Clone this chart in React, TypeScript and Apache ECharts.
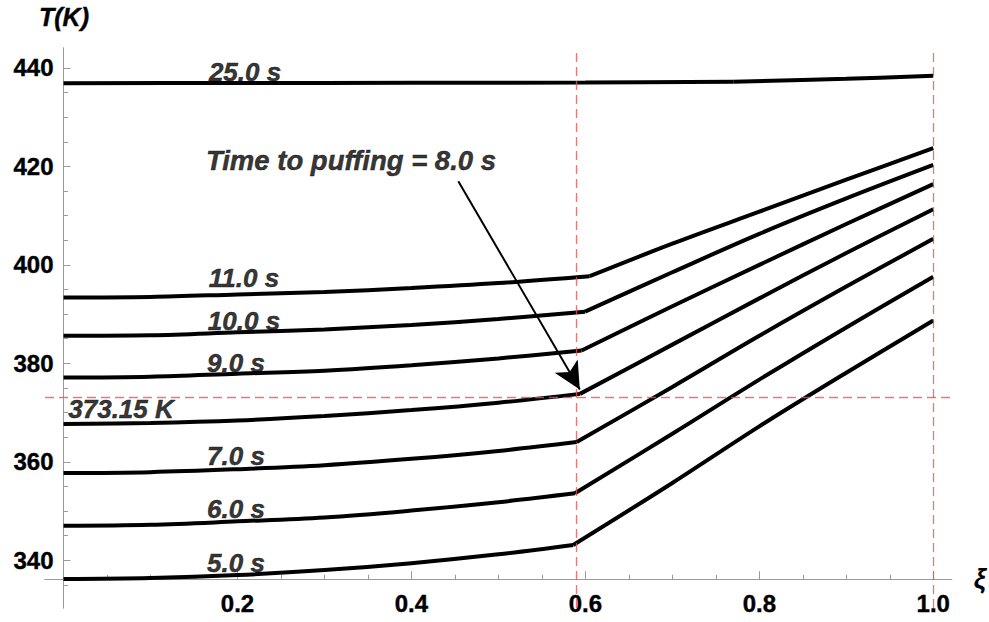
import React, { useEffect, useRef } from 'react';
import * as echarts from 'echarts';

const WIDTH = 989;
const HEIGHT = 622;

// Plot range of the frame and the point where the two axes cross
const XI_RANGE = [-0.0213, 1.0212];
const T_RANGE = [330.3, 444.06];
const AXIS_CROSS_T = 336.14;
const AXIS_CROSS_XI = 0;

// Tick positions
const XI_MAJOR = [0.2, 0.4, 0.6, 0.8, 1.0];
const XI_MINOR = [0.05, 0.1, 0.15, 0.25, 0.3, 0.35, 0.45, 0.5, 0.55, 0.65, 0.7, 0.75, 0.85, 0.9, 0.95];
const T_MAJOR = [340, 360, 380, 400, 420, 440];
const T_MINOR = [335, 345, 350, 355, 365, 370, 375, 385, 390, 395, 405, 410, 415, 425, 430, 435];

// Temperature profiles T(ξ) at successive times, [ξ, T in K]
const T_5S = [[0, 336.2], [0.1, 336.4], [0.2, 337.0], [0.3, 338.0], [0.4, 339.4], [0.5, 341.2], [0.586, 343.1], [0.7, 355.7], [0.8, 367.2], [0.9, 378.1], [1.0, 388.7]];
const T_6S = [[0, 347.0], [0.1, 347.2], [0.2, 347.9], [0.3, 348.7], [0.4, 350.1], [0.5, 351.8], [0.588, 353.6], [0.7, 365.7], [0.8, 376.7], [0.9, 387.3], [1.0, 397.6]];
const T_7S = [[0, 357.7], [0.1, 357.9], [0.2, 358.5], [0.3, 359.3], [0.4, 360.6], [0.5, 362.2], [0.59, 364.0], [0.7, 375.2], [0.8, 385.6], [0.9, 395.6], [1.0, 405.3]];
const T_8S = [[0, 367.7], [0.1, 367.9], [0.2, 368.4], [0.3, 369.3], [0.4, 370.5], [0.5, 372.0], [0.5938, 373.8], [0.7, 383.8], [0.8, 393.2], [0.9, 402.4], [1.0, 411.3]];
const T_9S = [[0, 377.1], [0.1, 377.3], [0.2, 377.9], [0.3, 378.5], [0.4, 379.6], [0.5, 381.0], [0.5957, 382.6], [0.7, 391.6], [0.8, 400.0], [0.9, 408.3], [1.0, 416.4]];
const T_10S = [[0, 385.6], [0.1, 385.7], [0.2, 386.3], [0.3, 386.9], [0.4, 387.8], [0.5, 389.0], [0.5996, 390.5], [0.7, 398.5], [0.8, 406.3], [0.9, 413.5], [1.0, 420.3]];
const T_11S = [[0, 393.4], [0.1, 393.5], [0.2, 394.0], [0.3, 394.5], [0.4, 395.3], [0.5, 396.3], [0.605, 397.7], [0.7, 404.3], [0.8, 410.8], [0.9, 417.3], [1.0, 423.7]];
const T_25S = [[0, 436.9], [0.2, 436.95], [0.4, 437.0], [0.6, 437.05], [0.77, 437.2], [0.9, 437.8], [1.0, 438.4]];

// kink = index of the point where the profile bends
const CURVES = [
  { name: '5.0 s', data: T_5S, kink: 6 },
  { name: '6.0 s', data: T_6S, kink: 6 },
  { name: '7.0 s', data: T_7S, kink: 6 },
  { name: '8.0 s', data: T_8S, kink: 6 },
  { name: '9.0 s', data: T_9S, kink: 6 },
  { name: '10.0 s', data: T_10S, kink: 6 },
  { name: '11.0 s', data: T_11S, kink: 6 },
  { name: '25.0 s', data: T_25S, kink: 4 },
];

// Reference lines
const BOILING_T = 373.15;
const PUFF_XI = 0.5854;
const SURFACE_XI = 1.0;

// Text annotations, centred on [ξ, T]
const ANNOTATIONS = [
  { text: '25.0 s', at: [0.2087, 439.2] },
  { text: '11.0 s', at: [0.2075, 397.34] },
  { text: '10.0 s', at: [0.2075, 388.6] },
  { text: '9.0 s', at: [0.1983, 380.1] },
  { text: '373.15 K', at: [0.0661, 370.7] },
  { text: '7.0 s', at: [0.1983, 361.2] },
  { text: '6.0 s', at: [0.1983, 350.4] },
  { text: '5.0 s', at: [0.1983, 339.45] },
];
const PUFF_NOTE = { text: 'Time to puffing = 8.0 s', at: [0.3305, 421.3] };

// Arrow from the note to the 8.0 s kink
const ARROW_FROM = [0.4539, 417.0];
const ARROW_TO = [0.5936, 374.7];

const FONT = '"Liberation Sans", Arial, sans-serif';
const AXIS_GREY = '#9a9a9a';
const DASH_RED = 'rgb(240, 80, 80)';

const GRID = { left: 45, right: 37.3, top: 48, bottom: 14 };

export default function App() {
  const ref = useRef<HTMLDivElement>(null);

  useEffect(() => {
    if (!ref.current) return;
    const chart = echarts.init(ref.current, null, { renderer: 'svg' });

    const gridW = WIDTH - GRID.left - GRID.right;
    const gridH = HEIGHT - GRID.top - GRID.bottom;
    const xAxisOffset = -((AXIS_CROSS_T - T_RANGE[0]) / (T_RANGE[1] - T_RANGE[0])) * gridH;
    const yAxisOffset = -((AXIS_CROSS_XI - XI_RANGE[0]) / (XI_RANGE[1] - XI_RANGE[0])) * gridW;

    const tickLabel = {
      color: '#000',
      fontFamily: FONT,
      fontWeight: 'bold' as const,
      fontSize: 24,
      textBorderColor: '#000',
      textBorderWidth: 0.4,
    };

    const noteLabel = {
      show: true,
      position: 'inside',
      formatter: (p: any) => p.name,
      color: '#000',
      fontFamily: FONT,
      fontWeight: 'bold',
      fontStyle: 'italic',
      textBorderColor: '#000',
      textBorderWidth: 0.5,
    };

    const baseX = {
      type: 'value' as const,
      min: XI_RANGE[0],
      max: XI_RANGE[1],
      position: 'bottom' as const,
      offset: xAxisOffset,
      splitLine: { show: false },
      axisLine: { show: true, onZero: false, lineStyle: { color: AXIS_GREY, width: 1 } },
    };
    const baseY = {
      type: 'value' as const,
      min: T_RANGE[0],
      max: T_RANGE[1],
      position: 'left' as const,
      offset: yAxisOffset,
      splitLine: { show: false },
      axisLine: { show: true, onZero: false, lineStyle: { color: AXIS_GREY, width: 1 } },
    };

    const dashStyle = { color: DASH_RED, type: [9, 5], width: 1.3, opacity: 0.8 };

    const curveSeries: any[] = [];
    CURVES.forEach((c) => {
      // inner (slowly rising) part and outer (steep) part, drawn as two smooth pieces
      [c.data.slice(0, c.kink + 1), c.data.slice(c.kink)].forEach((piece) => {
        curveSeries.push({
          type: 'line',
          name: c.name,
          data: piece,
          showSymbol: false,
          symbol: 'none',
          smooth: 0.35,
          silent: true,
          z: 3,
          lineStyle: { color: '#000', width: 4, cap: 'butt' },
        });
      });
    });

    const option: any = {
      animation: false,
      backgroundColor: '#fff',
      grid: { ...GRID, containLabel: false },
      xAxis: [
        {
          ...baseX,
          name: 'ξ',
          nameLocation: 'end',
          nameGap: 22,
          nameTextStyle: { color: '#000', fontFamily: FONT, fontSize: 27, fontWeight: 'bold', fontStyle: 'italic', verticalAlign: 'middle' },
          axisTick: { show: true, inside: true, length: 8, customValues: XI_MAJOR, lineStyle: { color: AXIS_GREY } },
          axisLabel: { ...tickLabel, margin: 12, customValues: XI_MAJOR, formatter: (v: number) => v.toFixed(1) },
        },
        {
          ...baseX,
          axisTick: { show: true, inside: true, length: 4.5, customValues: XI_MINOR, lineStyle: { color: AXIS_GREY } },
          axisLabel: { show: false },
        },
      ],
      yAxis: [
        {
          ...baseY,
          axisTick: { show: true, inside: true, length: 7, customValues: T_MAJOR, lineStyle: { color: AXIS_GREY } },
          axisLabel: { ...tickLabel, margin: 10, customValues: T_MAJOR, formatter: (v: number) => String(Math.round(v)) },
        },
        {
          ...baseY,
          axisTick: { show: true, inside: true, length: 4.5, customValues: T_MINOR, lineStyle: { color: AXIS_GREY } },
          axisLabel: { show: false },
        },
      ],
      graphic: [
        {
          type: 'text',
          x: 64,
          y: 17,
          z: 10,
          style: {
            text: 'T(K)',
            fill: '#000',
            font: `italic bold 25px ${FONT}`,
            align: 'center',
            verticalAlign: 'middle',
            stroke: '#000',
            lineWidth: 0.4,
          },
        },
      ],
      series: [
        {
          type: 'line',
          name: 'reference',
          data: [],
          silent: true,
          markLine: {
            silent: true,
            symbol: ['none', 'none'],
            label: { show: false },
            lineStyle: dashStyle,
            emphasis: { disabled: true },
            data: [
              { xAxis: PUFF_XI, lineStyle: dashStyle },
              { xAxis: SURFACE_XI, lineStyle: dashStyle },
              { yAxis: BOILING_T, lineStyle: dashStyle },
            ],
          },
        },
        ...curveSeries,
        {
          type: 'scatter',
          name: 'curve labels',
          symbolSize: 0,
          silent: true,
          z: 4,
          data: ANNOTATIONS.map((a) => ({ value: a.at, name: a.text })),
          label: { ...noteLabel, fontSize: 26 },
        },
        {
          type: 'scatter',
          name: 'puffing note',
          symbolSize: 0,
          silent: true,
          z: 4,
          data: [{ value: PUFF_NOTE.at, name: PUFF_NOTE.text }],
          label: { ...noteLabel, fontSize: 27.5 },
          markLine: {
            silent: true,
            symbol: ['none', 'arrow'],
            label: { show: false },
            lineStyle: { color: '#000', type: 'solid', width: 2 },
            emphasis: { disabled: true },
            data: [
              [
                { coord: ARROW_FROM, symbol: 'none' },
                { coord: ARROW_TO, symbol: 'arrow', symbolSize: [20, 27] },
              ],
            ],
          },
        },
      ],
    };

    chart.setOption(option);
    return () => chart.dispose();
  }, []);

  return (
    <div
      ref={ref}
      style={{ position: 'absolute', left: 0, top: 0, width: WIDTH, height: HEIGHT, background: '#fff' }}
    />
  );
}
